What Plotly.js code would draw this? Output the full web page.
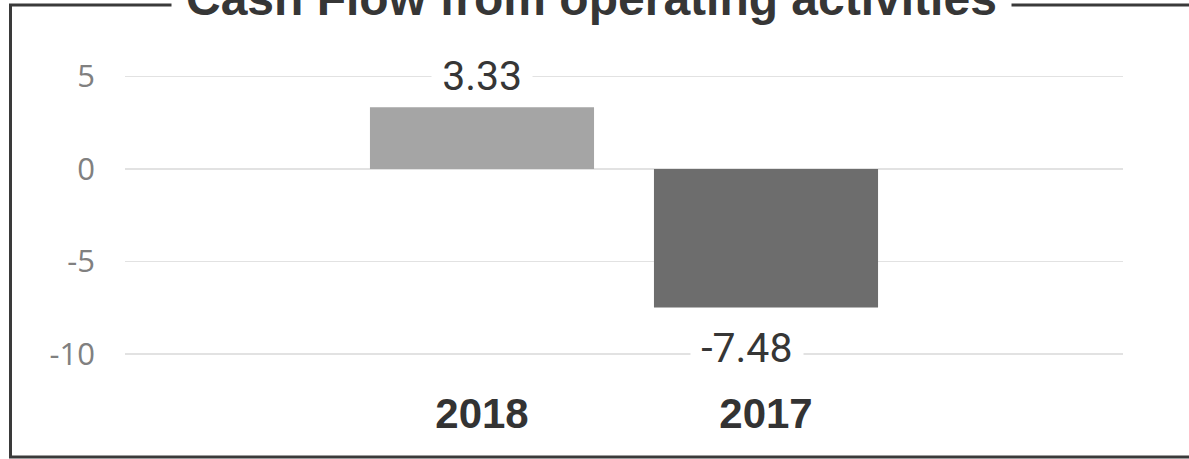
<!DOCTYPE html>
<html>
<head>
<meta charset="utf-8">
<script src="https://cdn.plot.ly/plotly-3.0.1.min.js"></script>
<style>
html,body{margin:0;padding:0;background:#fff;}
#chart{width:1189px;height:459px;}
</style>
</head>
<body>
<div id="chart"></div>
<script>
// Data
var categories = ['2018', '2017'];
var values = [3.33, -7.48];
var barColors = ['#a5a5a5', '#6d6d6d'];
var yTicks = [-10, -5, 0, 5];
var yTickLabels = ['-10', '-5', '0', '5'];
var chartTitle = 'Cash Flow from operating activities';

var W = 1189, H = 459;
var mL = 125, mR = W - 1123, mT = 20, mB = H - 385;
var plotW = W - mL - mR, plotH = H - mT - mB;
function px2paperX(px){ return (px - mL) / plotW; }
function px2paperY(py){ return (H - mB - py) / plotH; }

var trace = {
  type: 'bar',
  x: categories,
  y: values,
  marker: {color: barColors},
  hoverinfo: 'none'
};

var annotations = [];
// title
annotations.push({
  xref: 'paper', yref: 'paper',
  x: px2paperX(591), y: px2paperY(-1.5),
  xanchor: 'center', yanchor: 'middle',
  text: '<b>' + chartTitle + '</b>',
  showarrow: false,
  bgcolor: '#ffffff',
  borderpad: 14,
  font: {family: '"Liberation Sans", Arial, sans-serif', size: 48, color: '#363636'}
});
// value labels
for (var i = 0; i < values.length; i++) {
  var neg = values[i] < 0;
  annotations.push({
    xref: 'x', yref: 'y',
    x: i,
    y: neg ? -9.65 : 5,
    xshift: neg ? -19 : 0,
    xanchor: 'center', yanchor: 'middle',
    text: '&nbsp;' + values[i].toFixed(2) + '&nbsp;',
    showarrow: false,
    bgcolor: '#ffffff',
    borderpad: 0,
    font: {family: 'Roboto, sans-serif', size: 41, color: '#363636'}
  });
}

var layout = {
  width: W, height: H,
  margin: {l: mL, r: mR, t: mT, b: mB, pad: 0},
  paper_bgcolor: '#ffffff',
  plot_bgcolor: '#ffffff',
  showlegend: false,
  bargap: 0.211,
  xaxis: {
    type: 'category',
    range: [-1.257, 2.257],
    showgrid: false, zeroline: false, showline: false,
    ticks: '',
    ticklabelstandoff: 0,
    tickfont: {family: '"Liberation Sans", Arial, sans-serif', size: 42, color: '#333333', weight: 'bold'},
    fixedrange: true
  },
  yaxis: {
    range: [-11.66, 8.04],
    tickvals: yTicks,
    ticktext: yTickLabels,
    showgrid: true, gridcolor: '#e2e2e2', gridwidth: 1.5,
    zeroline: false, showline: false,
    ticks: '',
    ticklabelstandoff: 29,
    tickfont: {family: '"Open Sans", "Noto Sans", sans-serif', size: 31, color: '#808080'},
    fixedrange: true
  },
  shapes: [{
    type: 'rect', xref: 'paper', yref: 'paper',
    x0: px2paperX(10.5), x1: px2paperX(1215),
    y0: px2paperY(457), y1: px2paperY(5),
    line: {color: '#3a3a3a', width: 3},
    fillcolor: 'rgba(0,0,0,0)',
    layer: 'below'
  }],
  annotations: annotations
};

Plotly.newPlot('chart', [trace], layout, {displayModeBar: false, staticPlot: true});
</script>
</body>
</html>
